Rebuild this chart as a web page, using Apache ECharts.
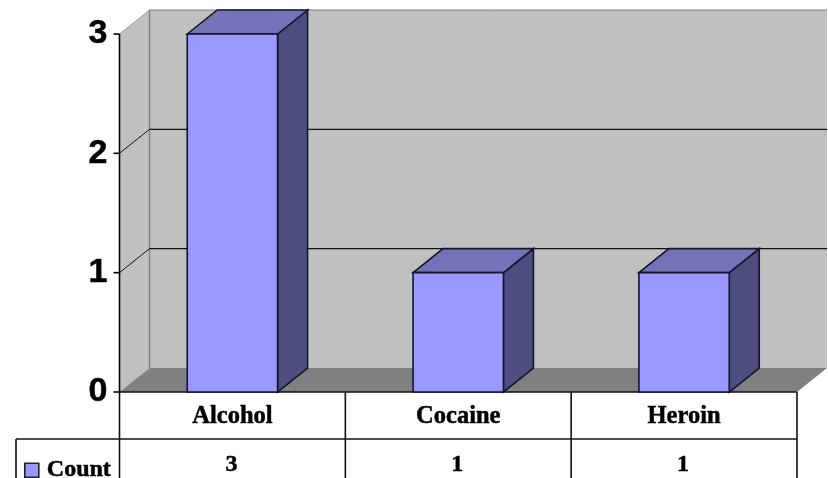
<!DOCTYPE html>
<html><head><meta charset="utf-8">
<style>html,body{margin:0;padding:0;background:#fff}#c{width:828px;height:478px}</style>
<script src="https://cdn.jsdelivr.net/npm/echarts@6/dist/echarts.min.js"></script>
</head><body><div id="c"></div>
<script>
const categories = ['Alcohol', 'Cocaine', 'Heroin'];
const counts = [3, 1, 1];
const yTicks = [0, 1, 2, 3];
const seriesName = 'Count';

const DX = 30, DY = -24;
const ROW1 = 47, ROW2 = 90, LEGEND_LEFT = 16;
const BAR_RATIO = 0.4;
const SERIF = 'bold 24px "Liberation Serif"';

function poly(points, fill, stroke, lw) {
  return { type: 'polygon', shape: { points }, style: { fill, stroke: stroke || null, lineWidth: lw || 1 } };
}
function line(x1, y1, x2, y2, stroke, lw) {
  return { type: 'line', shape: { x1, y1, x2, y2 }, style: { stroke, lineWidth: lw || 1.2, fill: null } };
}

function renderScene(params, api) {
  const band = api.size([1, 0])[0];
  const p0 = api.coord([0, 0]);
  const pTop = api.coord([0, 3]);
  const L = p0[0] - band / 2, R = L + band * categories.length;
  const B = p0[1], T = pTop[1];
  const ch = [];
  // left wall, back wall, floor
  ch.push(poly([[L, B], [L + DX, B + DY], [L + DX, T + DY], [L, T]], '#c0c0c0'));
  ch.push(poly([[L + DX, B + DY], [R + DX, B + DY], [R + DX, T + DY], [L + DX, T + DY]], '#c0c0c0'));
  ch.push(poly([[L, B], [L + DX, B + DY], [R + DX, B + DY], [R, B]], '#808080'));
  // wall edges
  ch.push(line(L + DX, B + DY, L + DX, T + DY, '#808080', 1.5));
  ch.push(line(L, T, L + DX, T + DY, '#a0a0a0', 1));
  ch.push(line(L + DX, T + DY, R + DX, T + DY, '#808080', 1));
  // grid lines on both walls
  yTicks.slice(1, -1).forEach(v => {
    const y = api.coord([0, v])[1];
    ch.push(line(L, y, L + DX, y + DY, '#111', 1));
    ch.push(line(L + DX, y + DY, R + DX, y + DY, '#111', 1.4));
  });
  // value axis with ticks
  ch.push(line(L, T, L, B, '#000', 1.6));
  yTicks.forEach(v => {
    const y = api.coord([0, v])[1];
    ch.push(line(L - 6, y, L, y, '#000', 1.6));
  });
  // data table
  ch.push(line(L, B, R, B, '#111', 1.6));
  ch.push(line(LEGEND_LEFT, B + ROW1, R, B + ROW1, '#111', 1.6));
  ch.push(line(LEGEND_LEFT, B + ROW1, LEGEND_LEFT, B + ROW2, '#111', 1.6));
  for (let i = 0; i <= categories.length; i++) {
    ch.push(line(L + band * i, B, L + band * i, B + ROW2, '#111', 1.6));
  }
  return { type: 'group', children: ch };
}

function renderBar(params, api) {
  const band = api.size([1, 0])[0];
  const top = api.coord([api.value(0), api.value(1)]);
  const base = api.coord([api.value(0), 0]);
  const w = band * BAR_RATIO;
  const x0 = top[0] - w / 2, x1 = top[0] + w / 2, yT = top[1], yB = base[1];
  const edge = '#14142a';
  return { type: 'group', children: [
    poly([[x1, yT], [x1 + DX, yT + DY], [x1 + DX, yB + DY], [x1, yB]], '#4d4d80', edge, 1.6),
    poly([[x0, yT], [x0 + DX, yT + DY], [x1 + DX, yT + DY], [x1, yT]], '#7373b8', edge, 1.6),
    poly([[x0, yT], [x1, yT], [x1, yB], [x0, yB]], '#9999ff', edge, 1.6),
    { type: 'text', style: { text: String(api.value(1)), x: top[0] - 1, y: yB + 73, fill: '#000',
      stroke: '#000', lineWidth: 0.5,
      font: SERIF, textAlign: 'center', textVerticalAlign: 'middle' } }
  ] };
}

const chart = echarts.init(document.getElementById('c'), null, { renderer: 'canvas' });
chart.setOption({
  animation: false,
  grid: { left: 119.5, right: 31, top: 34, bottom: 86 },
  legend: {
    data: [{ name: seriesName, icon: 'rect', itemStyle: { color: '#9999ff', borderColor: '#222', borderWidth: 1.6 } }],
    left: 24, top: 458, itemWidth: 14, itemHeight: 14, padding: 0, selectedMode: false,
    textStyle: { fontFamily: 'Liberation Serif', fontWeight: 'bold', fontSize: 24, color: '#000',
      padding: [0, 0, 0, 3], textBorderColor: '#000', textBorderWidth: 0.5 }
  },
  xAxis: {
    type: 'category', data: categories,
    axisLine: { show: false }, axisTick: { show: false }, splitLine: { show: false },
    axisLabel: { fontFamily: 'Liberation Serif', fontWeight: 'bold', fontSize: 24.5, color: '#000', margin: 12,
      textBorderColor: '#000', textBorderWidth: 0.5 }
  },
  yAxis: {
    type: 'value', min: 0, max: 3, interval: 1,
    axisLine: { show: false }, axisTick: { show: false }, splitLine: { show: false },
    axisLabel: { fontFamily: 'Liberation Sans', fontWeight: 'bold', fontSize: 34, color: '#000', margin: 12,
      padding: [2, 0, 0, 0], textBorderColor: '#000', textBorderWidth: 0.5 }
  },
  series: [
    { name: 'walls', type: 'custom', renderItem: renderScene, data: [[0, 0]], clip: false, z: 1, silent: true, encode: { x: 0, y: 1 } },
    { name: seriesName, type: 'custom', renderItem: renderBar, clip: false, z: 2,
      itemStyle: { color: '#9999ff' },
      data: counts.map((v, i) => [i, v]), encode: { x: 0, y: 1 } }
  ]
});
</script></body></html>
